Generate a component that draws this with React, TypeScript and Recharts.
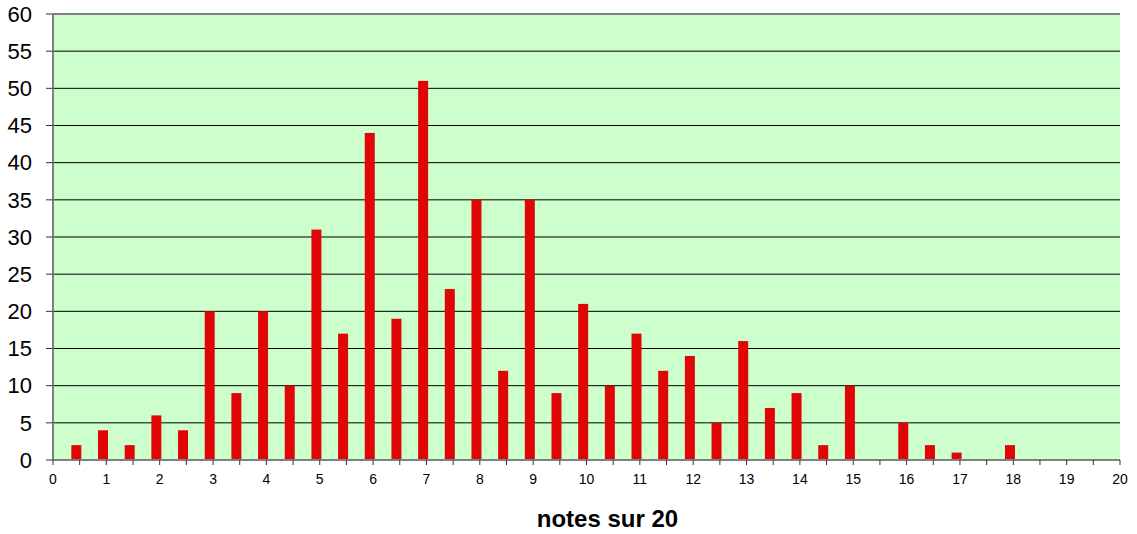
import React from "react";
import {
  BarChart,
  Bar,
  XAxis,
  YAxis,
  CartesianGrid,
  ReferenceLine,
} from "recharts";

// notes sur 20 (pas de 0,5) et effectifs
const notes = [
  0.5, 1, 1.5, 2, 2.5, 3, 3.5, 4, 4.5, 5, 5.5, 6, 6.5, 7, 7.5, 8, 8.5, 9, 9.5, 10,
  10.5, 11, 11.5, 12, 12.5, 13, 13.5, 14, 14.5, 15, 15.5, 16, 16.5, 17, 17.5, 18,
  18.5, 19, 19.5, 20,
];
const effectifs = [
  2, 4, 2, 6, 4, 20, 9, 20, 10, 31, 17, 44, 19, 51, 23, 35, 12, 35, 9, 21,
  10, 17, 12, 14, 5, 16, 7, 9, 2, 10, 0, 5, 2, 1, 0, 2,
  0, 0, 0, 0,
];
const xTicks = [
  0, 0.5, 1, 1.5, 2, 2.5, 3, 3.5, 4, 4.5, 5, 5.5, 6, 6.5, 7, 7.5, 8, 8.5, 9, 9.5, 10,
  10.5, 11, 11.5, 12, 12.5, 13, 13.5, 14, 14.5, 15, 15.5, 16, 16.5, 17, 17.5, 18,
  18.5, 19, 19.5, 20,
];
const yTicks = [0, 5, 10, 15, 20, 25, 30, 35, 40, 45, 50, 55, 60];

const data = notes.map((n, i) => ({ note: n, effectif: effectifs[i] }));

const RED = "#E00606";
const GRAY = "#808080";

// Excel draws the bars a little left of the tick
const BarShape = (props: any) => {
  const { x, y, width, height } = props;
  if (!height || height <= 0) return null;
  return <rect x={x - 3} y={y} width={width} height={height} fill={RED} />;
};

export default function App() {
  return (
    <div style={{ position: "absolute", left: 0, top: 0, background: "#fff" }}>
      <BarChart
        width={1137}
        height={534}
        data={data}
        margin={{ top: 14, right: 17, left: 0, bottom: 0 }}
        style={{ fontFamily: "Arial, 'Liberation Sans', sans-serif" }}
      >
        <CartesianGrid
          vertical={false}
          stroke="#000"
          fill="#CCFFCC"
          fillOpacity={1}
        />
        <XAxis
          type="number"
          dataKey="note"
          domain={[0, 20]}
          ticks={xTicks}
          interval={0}
          allowDecimals
          height={74}
          tickSize={5}
          tickMargin={9}
          axisLine={{ stroke: GRAY, strokeWidth: 2 }}
          tickLine={{ stroke: "#333" }}
          tick={{ fill: "#000", fontSize: 14 }}
          tickFormatter={(v: number) => (Number.isInteger(v) ? String(v) : "")}
          label={{
            value: "notes sur 20",
            position: "insideBottom",
            offset: 7,
            dx: 21,
            style: { fontSize: 24, fontWeight: "bold", fill: "#000" },
          }}
        />
        <YAxis
          domain={[0, 60]}
          ticks={yTicks}
          interval={0}
          width={53}
          tickSize={7}
          tickMargin={14}
          axisLine={{ stroke: GRAY, strokeWidth: 2 }}
          tickLine={{ stroke: "#333" }}
          tick={{ fill: "#000", fontSize: 22 }}
        />
        <ReferenceLine y={60} stroke={GRAY} strokeWidth={2} />
        <Bar
          dataKey="effectif"
          fill={RED}
          barSize={10}
          shape={<BarShape />}
          isAnimationActive={false}
        />
      </BarChart>
    </div>
  );
}
